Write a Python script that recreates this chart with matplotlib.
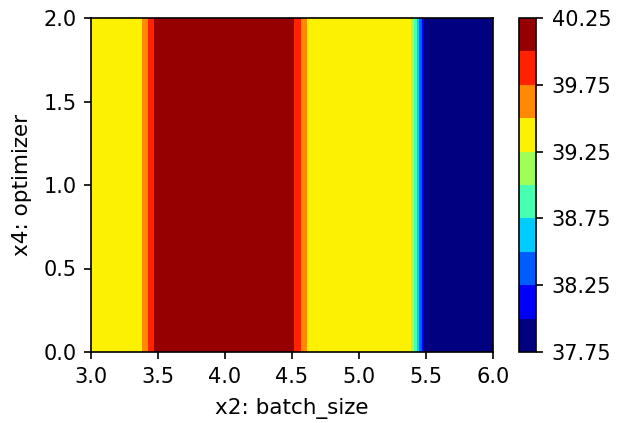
import numpy as np
from matplotlib import pyplot as plt
from matplotlib.colors import ListedColormap

# breakpoints along x2 (field is constant along x4)
x2_pts = [3.0, 3.36, 3.49, 4.50, 4.63, 5.38, 5.50, 6.0]
z_pts = [39.4, 39.4, 40.1, 40.1, 39.4, 39.4, 37.85, 37.85]
x4_pts = [0.0, 2.0]
levels = [37.75, 38.0, 38.25, 38.5, 38.75, 39.0, 39.25, 39.5, 39.75, 40.0, 40.25]
cbar_ticks = [37.75, 38.25, 38.75, 39.25, 39.75, 40.25]

DPI = 150
W, H = 617, 423

X, Y = np.meshgrid(x2_pts, x4_pts)
Z = np.array([z_pts for _ in x4_pts])

cmap = ListedColormap(plt.get_cmap('jet')(np.linspace(0.0, 0.98, 10)))

fig = plt.figure(figsize=(W / DPI, H / DPI), dpi=DPI)
ax = fig.add_axes([91 / W, 71 / H, 402 / W, 334 / H])
cax = fig.add_axes([518.5 / W, 71 / H, 17 / W, 334 / H])

cs = ax.contourf(X, Y, Z, levels=levels, cmap=cmap)
ax.set_xlim(3.0, 6.0)
ax.set_ylim(0.0, 2.0)
ax.set_xticks([3.0, 3.5, 4.0, 4.5, 5.0, 5.5, 6.0])
ax.set_yticks([0.0, 0.5, 1.0, 1.5, 2.0])
ax.set_xlabel('x2: batch_size', fontsize=10.3, labelpad=5.5)
ax.set_ylabel('x4: optimizer', fontsize=10.3, labelpad=5.5)

cb = fig.colorbar(cs, cax=cax, ticks=cbar_ticks)
cb.ax.set_yticklabels(['%.2f' % t for t in cbar_ticks])
cb.ax.tick_params(pad=4.2)

fig.savefig('out.png', dpi=DPI)
